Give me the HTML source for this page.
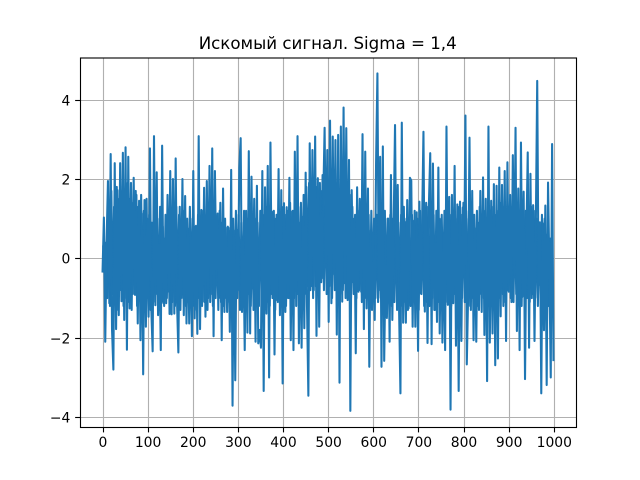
<!DOCTYPE html>
<html lang="ru">
<head>
<meta charset="utf-8">
<title>Искомый сигнал. Sigma = 1,4</title>
<style>
html,body{margin:0;padding:0;background:#fff;width:640px;height:480px;overflow:hidden}
svg{display:block}
text{font-family:"DejaVu Sans","Liberation Sans",sans-serif;fill:#000}
</style>
</head>
<body>
<svg id="chart" xmlns="http://www.w3.org/2000/svg" width="640" height="480" viewBox="0 0 640 480">
<rect x="0" y="0" width="640" height="480" fill="#fff"/>
<rect x="80" y="57.6" width="496" height="369.6" fill="#fff"/>
<g id="grid"></g>
<g id="series"></g>
<rect x="80.5" y="58" width="496" height="369.5" fill="none" stroke="#000" stroke-width="1.11"/>
<g id="x-axis"></g>
<g id="y-axis"></g>
<text x="327.7" y="49" font-size="16.67" text-anchor="middle">Искомый сигнал. Sigma = 1,4</text>
</svg>
<script>
const xTicks = [0, 100, 200, 300, 400, 500, 600, 700, 800, 900, 1000];
const yTicks = [-4, -2, 0, 2, 4];
const sampleStep = 3;
const signalValues = [
-0.33,1.03,-2.1,0.45,1.95,-1.13,2.63,-1.78,-2.8,2.4,-1.78,1.72,-1.43,2.4,-1.08,2.66,-1.55,2.8,-2.3,2.56,
-1.26,1.9,-0.9,2.03,-0.92,1.6,-1.64,1.45,-2.06,1.13,-2.92,1.47,-1.72,1.0,-1.47,2.77,-1.26,-2.34,3.08,-1.18,
2.17,-1.43,0.35,-2.31,2.84,-1.13,0.5,-1.13,1.6,-0.84,2.2,-1.41,2.0,-1.39,2.52,-1.09,-2.37,1.3,-1.0,2.0,
-1.43,1.57,-1.64,0.75,-1.64,0.55,-1.96,2.2,-1.51,0.82,-1.9,3.08,-1.78,1.22,-1.09,1.78,-1.47,1.95,-1.0,2.33,
-0.9,2.77,-1.96,2.2,-0.42,1.13,-1.0,1.4,-2.06,1.76,-1.35,0.77,-1.35,0.77,-1.85,2.23,-3.71,0.7,-3.07,0.72,
-0.8,2.28,3.03,-1.35,0.42,-2.31,1.2,-1.87,2.7,-1.89,2.06,-0.76,1.5,-2.1,1.83,-2.14,-1.8,-2.25,2.2,-3.34,
1.79,-1.39,2.33,-3.0,2.92,-0.9,1.18,-2.42,1.0,-1.05,2.25,-1.43,1.72,-3.15,1.39,-1.35,1.29,-1.0,2.03,-2.06,
1.18,-2.31,2.69,-1.2,3.08,-2.14,0.9,-2.25,1.05,-1.76,2.16,-1.2,-3.46,2.9,-0.7,2.73,-0.8,3.07,-1.95,2.02,
-1.72,1.7,-0.5,1.5,3.29,-0.1,2.73,-1.6,3.47,-1.13,3.07,-0.4,2.98,-1.92,3.11,-3.13,3.32,-1.09,3.8,-0.63,
3.28,-1.05,2.48,-3.84,1.72,-0.6,1.0,-2.39,1.79,-0.84,1.5,-0.84,3.13,-1.78,2.69,-1.26,1.76,-2.73,0.7,-1.3,
-0.04,-1.55,2.4,4.66,-0.8,2.56,-2.73,2.82,-2.58,-0.17,-1.5,1.0,-2.1,2.1,-1.55,0.84,3.36,-0.59,1.85,-1.3,
-3.4,3.42,-1.62,0.92,-1.62,1.47,-1.26,2.03,1.96,-1.72,0.95,-1.72,1.16,-2.33,1.43,-0.88,0.92,3.19,-1.34,1.4,
-2.13,1.34,2.65,-2.16,2.39,-1.3,0.38,-1.6,2.29,-1.89,1.0,-2.12,0.61,-2.31,3.32,-1.17,1.55,-3.81,1.6,-1.13,
2.33,-2.2,1.36,-3.34,1.43,-2.08,1.28,-0.38,3.6,-2.67,-0.9,3.04,-1.3,1.7,-2.06,0.76,-2.1,0.9,-1.3,1.7,
-1.35,2.04,-1.93,1.5,-3.09,3.32,-2.12,1.45,-1.89,1.87,-2.69,1.83,-2.52,2.29,-1.46,1.85,-1.2,2.2,-2.08,2.42,
-0.84,1.6,-1.1,2.6,-0.42,3.29,-1.83,1.76,-2.31,2.92,-0.97,1.68,-3.04,0.49,2.67,-2.25,2.13,-1.0,1.34,-2.08,
0.9,4.47,-0.67,0.91,-3.4,0.88,-1.81,1.33,-3.19,1.91,-0.34,-3.0,2.88,-2.56
];
const denseBandOffset = 1.5;
const denseBandValues = [
0.3,-0.4,0.4,
-1.0,1.4,-1.2,1.7,-0.9,1.3,-1.1,1.8,-1.3,1.5,-0.8,1.6,-1.2,1.2,-1.0,1.9,-1.1,1.5,-1.3,1.4,-0.9,1.7,-1.2,1.3,-1.0,1.6,-1.1,1.2,-1.3,1.5,
-1.0,1.1,-1.3,0.9,-1.1,1.2,-0.9,1.0,-1.3,1.3,-1.1,0.8,-1.2,1.1,-1.0,1.2,-1.4,0.9,-1.1,1.0,-1.2,1.3,-0.9,1.1,-1.3,0.9,-1.0,1.2,-1.2,1.0,-1.1,1.3,-0.9,
1.0,-1.2,0.8,-1.3,1.1,-1.0,0.9,-1.2,1.2,-1.1,0.7,-1.3,1.0,-1.1,0.9,-1.2,1.1,-1.0,0.8,-1.3,1.2,-1.1,0.9,-1.2,1.0,-1.0,0.8,-1.1,0.7,-1.2,
1.0,-1.2,1.2,-1.0,1.1,-1.3,0.9,-1.1,1.2,-1.2,1.0,-0.9,1.3,-1.2,1.1,-1.3,1.0,-1.1,0.9,-1.2,1.2,-1.0,1.1,-1.3,1.3,-1.1,0.9,-1.2,1.0,-1.0,1.2,-1.3,1.1,-1.1,1.0,-1.2,1.3,-0.9,1.1,-1.2,1.2,-1.0,1.4,-1.1,1.2,-1.0,1.5,-0.9,1.3,-1.1,1.4,-0.9,1.6,
-0.9,1.8,-0.7,1.9,-0.8,1.7,-1.0,2.0,-0.7,1.8,-0.9,1.9,-0.6,2.1,-0.8,1.8,-0.9,1.7,-0.7,2.0,-1.0,1.9,-0.8,1.8,-0.6,1.6,-0.9,1.9,-0.8,1.7,-1.0,1.5,-0.8,1.6,-1.0,1.3,-0.9,
1.1,-1.0,1.2,-0.8,1.0,-1.1,0.9,-1.0,1.3,-0.9,1.1,-1.2,1.2,-0.8,1.0,-1.0,1.1,-1.1,0.9,-1.0,1.3,-0.9,1.2,-1.1,1.0,-1.0,1.1,
-1.2,1.0,-1.1,1.2,-1.3,0.9,-1.0,1.1,-1.2,1.3,-1.1,1.0,-1.3,0.9,-1.2,1.1,-1.0,1.2,-1.1,1.0,-1.3,1.2,-0.9,1.1,-1.2,1.0,-1.1,1.3,-1.2,0.9,-1.0,1.1,-1.3,1.2,-1.1,1.0,-1.2,1.1,-1.0,1.2,
-1.1,1.3,-1.0,1.1,-1.2,1.2,-0.9,1.0,-1.1,1.3,-1.2,1.1,-1.0,1.4,-1.1,1.2,-0.9,1.0,-1.2,1.3,-1.0,1.1,-1.1,1.2,-1.2,1.3,-0.9,1.1,-1.0,1.2,-1.1,1.0,-1.2,
1.2,-1.0,1.3,-0.9,1.1,-1.1,1.2,-1.0,1.4,-0.9,1.3,-1.1,1.2,-0.8,1.0,-1.0,1.3,-1.1,1.2,-0.9,1.4,-1.0,1.1,-1.2,1.3,-0.9,1.2,-1.0,1.1,-1.1,1.3,-0.9,1.2,-1.0,1.0,-1.2,0.9,-1.0,1.1,-0.9,1.0,-1.1,0.6,-1.2,0.5,-1.3
];

const svgNS = 'http://www.w3.org/2000/svg';
const plot = { left: 80, right: 576, top: 57.6, bottom: 427.2 };
const xDomain = [-49.95, 1048.95];
const yDomain = [-4.252, 5.058];

function xScale(v) {
  return plot.left + (v - xDomain[0]) / (xDomain[1] - xDomain[0]) * (plot.right - plot.left);
}
function yScale(v) {
  return plot.bottom - (v - yDomain[0]) / (yDomain[1] - yDomain[0]) * (plot.bottom - plot.top);
}
function snap(p) {
  return Math.round(p) + 0.5;
}
function makeLine(x1, y1, x2, y2, color) {
  const line = document.createElementNS(svgNS, 'line');
  line.setAttribute('x1', x1);
  line.setAttribute('y1', y1);
  line.setAttribute('x2', x2);
  line.setAttribute('y2', y2);
  line.setAttribute('stroke', color);
  line.setAttribute('stroke-width', '1.11');
  return line;
}
function makeText(x, y, anchor, content) {
  const t = document.createElementNS(svgNS, 'text');
  t.setAttribute('x', x);
  t.setAttribute('y', y);
  t.setAttribute('font-size', '13.89');
  t.setAttribute('text-anchor', anchor);
  t.textContent = content;
  return t;
}
function makeSignal(values, offset) {
  const points = values.map(function (v, i) {
    return xScale(i * sampleStep + offset).toFixed(2) + ',' + yScale(v).toFixed(2);
  }).join(' ');
  const poly = document.createElementNS(svgNS, 'polyline');
  poly.setAttribute('points', points);
  poly.setAttribute('fill', 'none');
  poly.setAttribute('stroke', '#1f77b4');
  poly.setAttribute('stroke-width', '2.08');
  poly.setAttribute('stroke-linejoin', 'round');
  poly.setAttribute('stroke-linecap', 'square');
  return poly;
}
function fmt(v) {
  return v < 0 ? '\u2212' + Math.abs(v) : String(v);
}

const gridLayer = document.getElementById('grid');
const xAxisLayer = document.getElementById('x-axis');
const yAxisLayer = document.getElementById('y-axis');
const seriesLayer = document.getElementById('series');

xTicks.forEach(function (tick) {
  const px = snap(xScale(tick));
  const gridLine = makeLine(px, plot.top, px, plot.bottom, '#b0b0b0');
  
  
  gridLayer.appendChild(gridLine);
  const mark = makeLine(px, plot.bottom, px, plot.bottom + 5.2, '#000');
  
  
  xAxisLayer.appendChild(mark);
  const label = makeText(xScale(tick) + 0.4, 447, 'middle', fmt(tick));
  
  
  xAxisLayer.appendChild(label);
});

yTicks.forEach(function (tick) {
  const py = snap(yScale(tick));
  const gridLine = makeLine(plot.left, py, plot.right, py, '#b0b0b0');
  
  
  gridLayer.appendChild(gridLine);
  const mark = makeLine(plot.left - 4.86, py, plot.left, py, '#000');
  
  
  yAxisLayer.appendChild(mark);
  const label = makeText(70.3, py + 4.8, 'end', fmt(tick));
  
  
  yAxisLayer.appendChild(label);
});

const denseBandLine = makeSignal(denseBandValues, denseBandOffset);


seriesLayer.appendChild(denseBandLine);

const signalLine = makeSignal(signalValues, 0);


seriesLayer.appendChild(signalLine);
</script>
</body>
</html>
